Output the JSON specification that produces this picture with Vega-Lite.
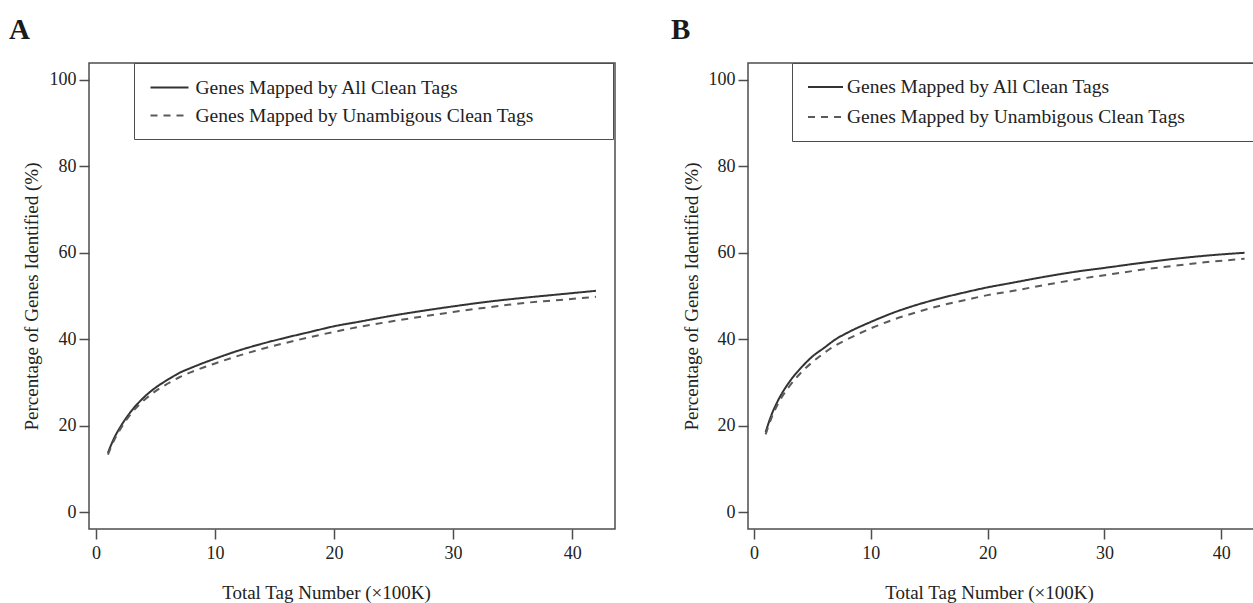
{
  "$schema": "https://vega.github.io/schema/vega-lite/v6.json",
  "autosize": {"type": "pad"},
  "padding": {"left": 8, "top": 14, "right": -6, "bottom": 0},
  "spacing": 133,
  "bounds": "flush",
  "resolve": {
    "scale": {"color": "independent", "strokeDash": "independent"},
    "legend": {"color": "independent", "strokeDash": "independent"}
  },
  "config": {
    "font": "Liberation Serif",
    "axis": {
      "grid": false,
      "domain": false,
      "tickColor": "#4d4d4d",
      "tickWidth": 1.5,
      "tickSize": 10,
      "labelFont": "Liberation Serif",
      "labelFontSize": 18,
      "labelColor": "#222222",
      "titleFont": "Liberation Serif",
      "titleFontSize": 19,
      "titleFontWeight": "normal",
      "titleColor": "#222222"
    },
    "axisX": {"labelPadding": 5},
    "axisY": {"labelPadding": 3},
    "legend": {
      "labelFont": "Liberation Serif",
      "labelFontSize": 19.5,
      "labelColor": "#222222",
      "labelLimit": 0,
      "fillColor": "white",
      "strokeColor": "#4d4d4d",
      "symbolStrokeWidth": 2,
      "titleFontSize": 10,
      "titleOrient": "right"
    }
  },
  "datasets": {
    "A": [
      {"x": 1, "pct": 13.7, "series": "Genes Mapped by All Clean Tags"},
      {"x": 1.5, "pct": 17, "series": "Genes Mapped by All Clean Tags"},
      {"x": 2, "pct": 19.5, "series": "Genes Mapped by All Clean Tags"},
      {"x": 3, "pct": 23.5, "series": "Genes Mapped by All Clean Tags"},
      {"x": 4, "pct": 26.5, "series": "Genes Mapped by All Clean Tags"},
      {"x": 5, "pct": 28.8, "series": "Genes Mapped by All Clean Tags"},
      {"x": 6, "pct": 30.6, "series": "Genes Mapped by All Clean Tags"},
      {"x": 7, "pct": 32.2, "series": "Genes Mapped by All Clean Tags"},
      {"x": 8, "pct": 33.4, "series": "Genes Mapped by All Clean Tags"},
      {"x": 10, "pct": 35.5, "series": "Genes Mapped by All Clean Tags"},
      {"x": 12, "pct": 37.4, "series": "Genes Mapped by All Clean Tags"},
      {"x": 14, "pct": 39.0, "series": "Genes Mapped by All Clean Tags"},
      {"x": 16, "pct": 40.4, "series": "Genes Mapped by All Clean Tags"},
      {"x": 18, "pct": 41.7, "series": "Genes Mapped by All Clean Tags"},
      {"x": 20, "pct": 43.0, "series": "Genes Mapped by All Clean Tags"},
      {"x": 22, "pct": 44.0, "series": "Genes Mapped by All Clean Tags"},
      {"x": 25, "pct": 45.5, "series": "Genes Mapped by All Clean Tags"},
      {"x": 28, "pct": 46.8, "series": "Genes Mapped by All Clean Tags"},
      {"x": 30, "pct": 47.6, "series": "Genes Mapped by All Clean Tags"},
      {"x": 33, "pct": 48.7, "series": "Genes Mapped by All Clean Tags"},
      {"x": 36, "pct": 49.6, "series": "Genes Mapped by All Clean Tags"},
      {"x": 39, "pct": 50.4, "series": "Genes Mapped by All Clean Tags"},
      {"x": 42, "pct": 51.2, "series": "Genes Mapped by All Clean Tags"},
      {"x": 1, "pct": 13.3, "series": "Genes Mapped by Unambigous Clean Tags"},
      {"x": 1.5, "pct": 16.5, "series": "Genes Mapped by Unambigous Clean Tags"},
      {"x": 2, "pct": 19, "series": "Genes Mapped by Unambigous Clean Tags"},
      {"x": 3, "pct": 23, "series": "Genes Mapped by Unambigous Clean Tags"},
      {"x": 4, "pct": 25.8, "series": "Genes Mapped by Unambigous Clean Tags"},
      {"x": 5, "pct": 28, "series": "Genes Mapped by Unambigous Clean Tags"},
      {"x": 6, "pct": 29.7, "series": "Genes Mapped by Unambigous Clean Tags"},
      {"x": 7, "pct": 31.2, "series": "Genes Mapped by Unambigous Clean Tags"},
      {"x": 8, "pct": 32.4, "series": "Genes Mapped by Unambigous Clean Tags"},
      {"x": 10, "pct": 34.4, "series": "Genes Mapped by Unambigous Clean Tags"},
      {"x": 12, "pct": 36.2, "series": "Genes Mapped by Unambigous Clean Tags"},
      {"x": 14, "pct": 37.8, "series": "Genes Mapped by Unambigous Clean Tags"},
      {"x": 16, "pct": 39.2, "series": "Genes Mapped by Unambigous Clean Tags"},
      {"x": 18, "pct": 40.5, "series": "Genes Mapped by Unambigous Clean Tags"},
      {"x": 20, "pct": 41.7, "series": "Genes Mapped by Unambigous Clean Tags"},
      {"x": 22, "pct": 42.8, "series": "Genes Mapped by Unambigous Clean Tags"},
      {"x": 25, "pct": 44.2, "series": "Genes Mapped by Unambigous Clean Tags"},
      {"x": 28, "pct": 45.5, "series": "Genes Mapped by Unambigous Clean Tags"},
      {"x": 30, "pct": 46.3, "series": "Genes Mapped by Unambigous Clean Tags"},
      {"x": 33, "pct": 47.4, "series": "Genes Mapped by Unambigous Clean Tags"},
      {"x": 36, "pct": 48.4, "series": "Genes Mapped by Unambigous Clean Tags"},
      {"x": 39, "pct": 49.1, "series": "Genes Mapped by Unambigous Clean Tags"},
      {"x": 42, "pct": 49.8, "series": "Genes Mapped by Unambigous Clean Tags"}
    ],
    "B": [
      {"x": 1, "pct": 18.5, "series": "Genes Mapped by All Clean Tags"},
      {"x": 1.5, "pct": 22.5, "series": "Genes Mapped by All Clean Tags"},
      {"x": 2, "pct": 25.5, "series": "Genes Mapped by All Clean Tags"},
      {"x": 3, "pct": 30, "series": "Genes Mapped by All Clean Tags"},
      {"x": 4, "pct": 33.3, "series": "Genes Mapped by All Clean Tags"},
      {"x": 5, "pct": 36, "series": "Genes Mapped by All Clean Tags"},
      {"x": 6, "pct": 38, "series": "Genes Mapped by All Clean Tags"},
      {"x": 7, "pct": 40, "series": "Genes Mapped by All Clean Tags"},
      {"x": 8, "pct": 41.5, "series": "Genes Mapped by All Clean Tags"},
      {"x": 10, "pct": 44, "series": "Genes Mapped by All Clean Tags"},
      {"x": 12, "pct": 46.2, "series": "Genes Mapped by All Clean Tags"},
      {"x": 14, "pct": 48, "series": "Genes Mapped by All Clean Tags"},
      {"x": 16, "pct": 49.5, "series": "Genes Mapped by All Clean Tags"},
      {"x": 18, "pct": 50.8, "series": "Genes Mapped by All Clean Tags"},
      {"x": 20, "pct": 52, "series": "Genes Mapped by All Clean Tags"},
      {"x": 22, "pct": 53, "series": "Genes Mapped by All Clean Tags"},
      {"x": 25, "pct": 54.5, "series": "Genes Mapped by All Clean Tags"},
      {"x": 28, "pct": 55.8, "series": "Genes Mapped by All Clean Tags"},
      {"x": 30, "pct": 56.5, "series": "Genes Mapped by All Clean Tags"},
      {"x": 33, "pct": 57.6, "series": "Genes Mapped by All Clean Tags"},
      {"x": 36, "pct": 58.6, "series": "Genes Mapped by All Clean Tags"},
      {"x": 39, "pct": 59.4, "series": "Genes Mapped by All Clean Tags"},
      {"x": 42, "pct": 60.0, "series": "Genes Mapped by All Clean Tags"},
      {"x": 1, "pct": 18, "series": "Genes Mapped by Unambigous Clean Tags"},
      {"x": 1.5, "pct": 21.8, "series": "Genes Mapped by Unambigous Clean Tags"},
      {"x": 2, "pct": 24.8, "series": "Genes Mapped by Unambigous Clean Tags"},
      {"x": 3, "pct": 29, "series": "Genes Mapped by Unambigous Clean Tags"},
      {"x": 4, "pct": 32.2, "series": "Genes Mapped by Unambigous Clean Tags"},
      {"x": 5, "pct": 34.7, "series": "Genes Mapped by Unambigous Clean Tags"},
      {"x": 6, "pct": 36.8, "series": "Genes Mapped by Unambigous Clean Tags"},
      {"x": 7, "pct": 38.6, "series": "Genes Mapped by Unambigous Clean Tags"},
      {"x": 8, "pct": 40, "series": "Genes Mapped by Unambigous Clean Tags"},
      {"x": 10, "pct": 42.5, "series": "Genes Mapped by Unambigous Clean Tags"},
      {"x": 12, "pct": 44.6, "series": "Genes Mapped by Unambigous Clean Tags"},
      {"x": 14, "pct": 46.3, "series": "Genes Mapped by Unambigous Clean Tags"},
      {"x": 16, "pct": 47.8, "series": "Genes Mapped by Unambigous Clean Tags"},
      {"x": 18, "pct": 49, "series": "Genes Mapped by Unambigous Clean Tags"},
      {"x": 20, "pct": 50.2, "series": "Genes Mapped by Unambigous Clean Tags"},
      {"x": 22, "pct": 51.1, "series": "Genes Mapped by Unambigous Clean Tags"},
      {"x": 25, "pct": 52.6, "series": "Genes Mapped by Unambigous Clean Tags"},
      {"x": 28, "pct": 54, "series": "Genes Mapped by Unambigous Clean Tags"},
      {"x": 30, "pct": 54.8, "series": "Genes Mapped by Unambigous Clean Tags"},
      {"x": 33, "pct": 56, "series": "Genes Mapped by Unambigous Clean Tags"},
      {"x": 36, "pct": 57, "series": "Genes Mapped by Unambigous Clean Tags"},
      {"x": 39, "pct": 57.9, "series": "Genes Mapped by Unambigous Clean Tags"},
      {"x": 42, "pct": 58.6, "series": "Genes Mapped by Unambigous Clean Tags"}
    ]
  },
  "hconcat": [
    {
      "width": 526,
      "height": 466,
      "title": {"text": "A", "anchor": "start", "frame": "group", "dx": -80, "offset": -5, "baseline": "alphabetic", "fontSize": 29, "fontWeight": "bold", "font": "Liberation Serif", "color": "#1a1a1a"},
      "view": {"stroke": "#4d4d4d", "strokeWidth": 1.5},
      "data": {"name": "A"},
      "mark": {"type": "line", "interpolate": "monotone", "strokeWidth": 2},
      "encoding": {
        "x": {"field": "x", "type": "quantitative",
          "scale": {"domain": [-0.59, 43.6], "nice": false, "zero": false},
          "axis": {"values": [0, 10, 20, 30, 40], "title": "Total Tag Number (×100K)", "titleX": 237, "titleY": 69, "titleBaseline": "alphabetic", "titleAlign": "center"}},
        "y": {"field": "pct", "type": "quantitative",
          "scale": {"domain": [-3.9, 103.9], "nice": false, "zero": false},
          "axis": {"values": [0, 20, 40, 60, 80, 100], "title": "Percentage of Genes Identified (%)", "titleX": -58, "titleY": 233, "titleBaseline": "middle", "titleAlign": "center"}},
        "color": {"field": "series", "type": "nominal",
          "scale": {"domain": ["Genes Mapped by All Clean Tags", "Genes Mapped by Unambigous Clean Tags"], "range": ["#333333", "#5a5a5a"]},
          "legend": {"title": " ", "titlePadding": 65, "orient": "none", "legendX": 45, "legendY": 0, "direction": "vertical", "padding": 14, "symbolType": "M-2,0H2", "symbolSize": 361, "symbolOffset": 11, "labelOffset": 15.5, "rowPadding": 8}},
        "strokeDash": {"field": "series", "type": "nominal",
          "scale": {"domain": ["Genes Mapped by All Clean Tags", "Genes Mapped by Unambigous Clean Tags"], "range": [[1, 0], [7, 6]]},
          "legend": {"title": " ", "titlePadding": 65, "orient": "none", "legendX": 45, "legendY": 0, "direction": "vertical", "padding": 14, "symbolType": "M-2,0H2", "symbolSize": 361, "symbolOffset": 11, "labelOffset": 15.5, "rowPadding": 8}}
      }
    },
    {
      "width": 510,
      "height": 466,
      "title": {"text": "B", "anchor": "start", "frame": "group", "dx": -77, "offset": -5, "baseline": "alphabetic", "fontSize": 29, "fontWeight": "bold", "font": "Liberation Serif", "color": "#1a1a1a"},
      "view": {"stroke": "#4d4d4d", "strokeWidth": 1.5},
      "data": {"name": "B"},
      "mark": {"type": "line", "interpolate": "monotone", "strokeWidth": 2},
      "encoding": {
        "x": {"field": "x", "type": "quantitative",
          "scale": {"domain": [-0.51, 43.15], "nice": false, "zero": false},
          "axis": {"values": [0, 10, 20, 30, 40], "title": "Total Tag Number (×100K)", "titleX": 241, "titleY": 69, "titleBaseline": "alphabetic", "titleAlign": "center"}},
        "y": {"field": "pct", "type": "quantitative",
          "scale": {"domain": [-3.9, 103.9], "nice": false, "zero": false},
          "axis": {"values": [0, 20, 40, 60, 80, 100], "title": "Percentage of Genes Identified (%)", "titleX": -57, "titleY": 233, "titleBaseline": "middle", "titleAlign": "center"}},
        "color": {"field": "series", "type": "nominal",
          "scale": {"domain": ["Genes Mapped by All Clean Tags", "Genes Mapped by Unambigous Clean Tags"], "range": ["#333333", "#5a5a5a"]},
          "legend": {"title": " ", "titlePadding": 58, "orient": "none", "legendX": 44, "legendY": 0, "direction": "vertical", "padding": 14, "symbolType": "M-2,0H2", "symbolSize": 306, "symbolOffset": 9.5, "labelOffset": 11.5, "rowPadding": 10}},
        "strokeDash": {"field": "series", "type": "nominal",
          "scale": {"domain": ["Genes Mapped by All Clean Tags", "Genes Mapped by Unambigous Clean Tags"], "range": [[1, 0], [7, 6]]},
          "legend": {"title": " ", "titlePadding": 58, "orient": "none", "legendX": 44, "legendY": 0, "direction": "vertical", "padding": 14, "symbolType": "M-2,0H2", "symbolSize": 306, "symbolOffset": 9.5, "labelOffset": 11.5, "rowPadding": 10}}
      }
    }
  ]
}
